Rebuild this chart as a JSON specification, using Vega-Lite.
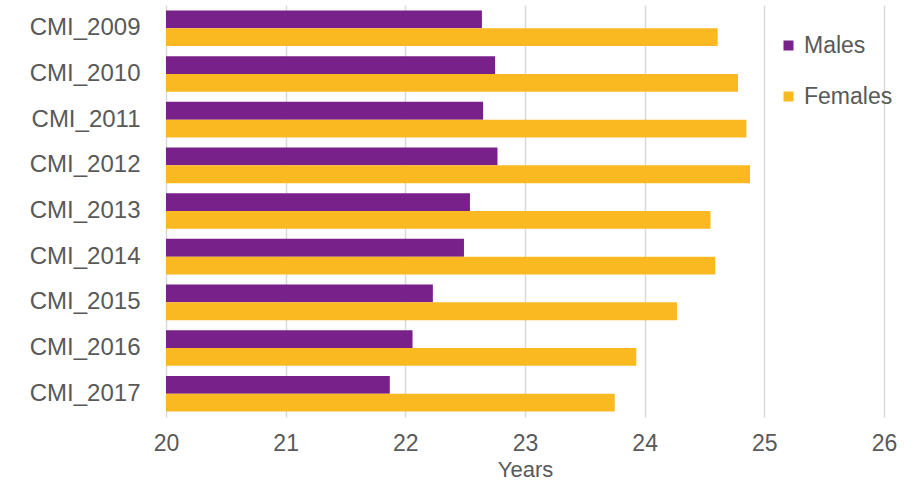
{
  "$schema": "https://vega.github.io/schema/vega-lite/v6.json",
  "autosize": "none",
  "width": 718,
  "height": 412,
  "padding": {"left": 166, "top": 5, "right": 35, "bottom": 70},
  "background": "white",
  "config": {
    "view": {"stroke": null},
    "font": "Liberation Sans",
    "axis": {"labelColor": "#595959", "titleColor": "#595959", "labelFontSize": 23, "titleFontSize": 22, "titleFontWeight": "normal"}
  },
  "data": {
    "values": [
      {"year": "CMI_2009", "sex": "Males", "value": 22.64},
      {"year": "CMI_2009", "sex": "Females", "value": 24.61},
      {"year": "CMI_2010", "sex": "Males", "value": 22.75},
      {"year": "CMI_2010", "sex": "Females", "value": 24.78},
      {"year": "CMI_2011", "sex": "Males", "value": 22.65},
      {"year": "CMI_2011", "sex": "Females", "value": 24.85},
      {"year": "CMI_2012", "sex": "Males", "value": 22.77},
      {"year": "CMI_2012", "sex": "Females", "value": 24.88},
      {"year": "CMI_2013", "sex": "Males", "value": 22.54},
      {"year": "CMI_2013", "sex": "Females", "value": 24.55},
      {"year": "CMI_2014", "sex": "Males", "value": 22.49},
      {"year": "CMI_2014", "sex": "Females", "value": 24.59},
      {"year": "CMI_2015", "sex": "Males", "value": 22.23},
      {"year": "CMI_2015", "sex": "Females", "value": 24.27},
      {"year": "CMI_2016", "sex": "Males", "value": 22.06},
      {"year": "CMI_2016", "sex": "Females", "value": 23.93},
      {"year": "CMI_2017", "sex": "Males", "value": 21.87},
      {"year": "CMI_2017", "sex": "Females", "value": 23.75}
    ]
  },
  "mark": {"type": "bar"},
  "encoding": {
    "y": {
      "field": "year", "type": "nominal", "sort": null,
      "scale": {"paddingInner": 0.22, "paddingOuter": 0.12},
      "axis": {"title": null, "ticks": false, "domain": false, "labelPadding": 26, "labelFontSize": 24}
    },
    "yOffset": {"field": "sex", "type": "nominal", "sort": ["Males", "Females"], "scale": {"paddingInner": 0}},
    "x": {
      "field": "value", "type": "quantitative",
      "scale": {"domain": [20, 26], "zero": false, "nice": false},
      "axis": {"title": "Years", "values": [20, 21, 22, 23, 24, 25, 26], "ticks": false, "domain": false, "labelFlush": false, "gridColor": "#d9d9d9", "gridWidth": 1.5, "labelPadding": 15, "titlePadding": 4}
    },
    "x2": {"datum": 20},
    "color": {
      "field": "sex", "type": "nominal",
      "scale": {"domain": ["Males", "Females"], "range": ["#78218A", "#FBB921"]},
      "legend": {"title": null, "orient": "none", "legendX": 611, "legendY": 29, "symbolType": "square", "symbolSize": 100, "labelFontSize": 23, "labelOffset": 4, "labelColor": "#595959", "rowPadding": 27, "symbolOpacity": 1}
    }
  }
}
